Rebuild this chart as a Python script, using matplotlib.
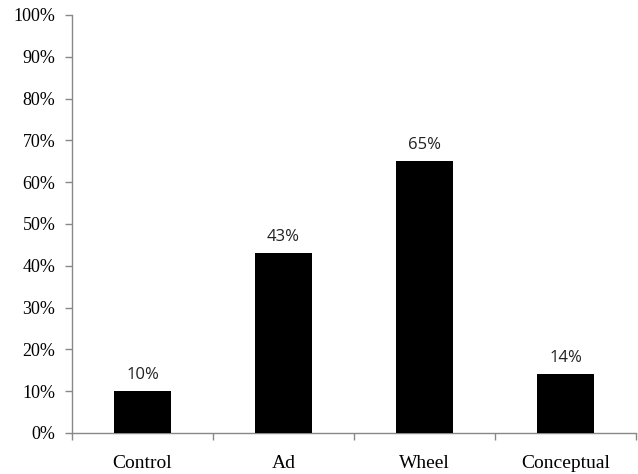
import matplotlib.pyplot as plt
from matplotlib.ticker import FixedLocator, PercentFormatter

categories = ['Control', 'Ad', 'Wheel', 'Conceptual']
values = [10, 43, 65, 14]
value_labels = ['10%', '43%', '65%', '14%']
y_ticks = list(range(0, 101, 10))

fig = plt.figure(figsize=(6.38, 4.74), dpi=100)
ax = fig.add_axes([0.1129, 0.0865, 0.884, 0.882])

x = list(range(len(categories)))
bars = ax.bar(x, values, width=0.40, color='black', zorder=3)

# value labels above each bar
for xi, v, lab in zip(x, values, value_labels):
    ax.annotate(lab, (xi, v), xytext=(0, 6), textcoords='offset points',
                ha='center', va='bottom', fontsize=12, family='Open Sans',
                color='#222222')

ax.set_xlim(-0.5, len(categories) - 0.5)
ax.set_ylim(0, 100)
ax.set_yticks(y_ticks)
ax.yaxis.set_major_formatter(PercentFormatter(decimals=0))

# category names at centres, tick marks on the boundaries
ax.set_xticks(x)
ax.set_xticklabels(categories, family='Liberation Serif', fontsize=14)
ax.tick_params(axis='x', which='major', length=0, pad=16)
ax.xaxis.set_minor_locator(FixedLocator([i - 0.5 for i in range(len(categories) + 1)]))
ax.tick_params(axis='x', which='minor', length=5, width=1, color='#888888', direction='out')

ax.tick_params(axis='y', length=5, width=1, color='#888888', direction='out', pad=7)
for lab in ax.get_yticklabels():
    lab.set_family('Liberation Serif')
    lab.set_fontsize(13)

for side in ['top', 'right']:
    ax.spines[side].set_visible(False)
for side in ['left', 'bottom']:
    ax.spines[side].set_color('#888888')
    ax.spines[side].set_linewidth(1)

fig.savefig('out.png', dpi=100)
